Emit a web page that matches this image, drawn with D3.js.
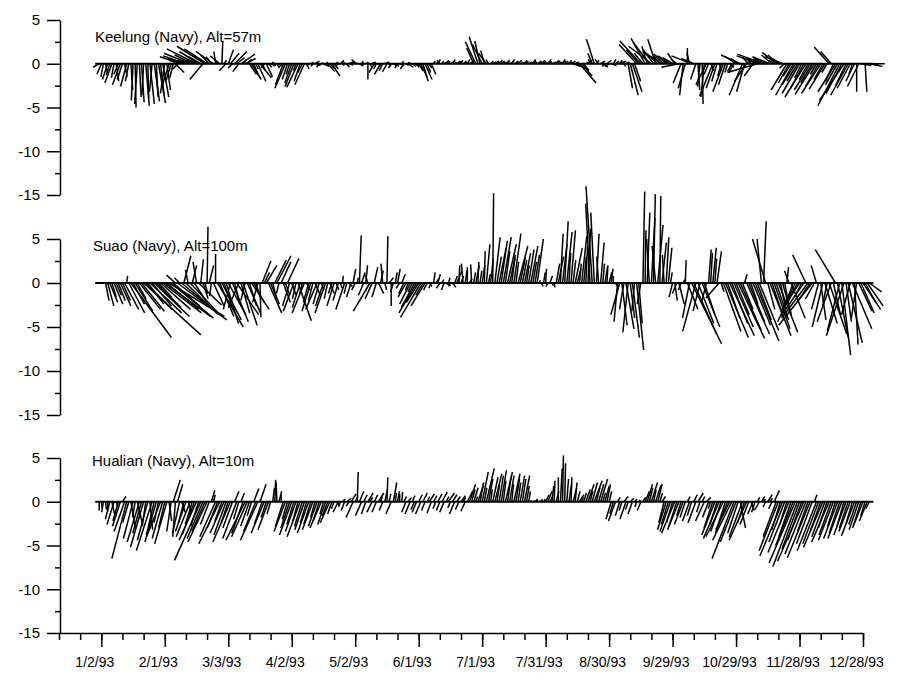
<!DOCTYPE html>
<html><head><meta charset="utf-8">
<script src="https://cdn.jsdelivr.net/npm/d3@7"></script>
<style>
body{margin:0;background:#fff}
svg{display:block}
</style>
</head><body><svg id="c" width="903" height="681"></svg>
<script>
// ---- data: daily wind components (u east, v north), 1993, one value per day from 1/1/93 ----
const stationTitles = ["Keelung (Navy), Alt=57m", "Suao (Navy), Alt=100m", "Hualian (Navy), Alt=10m"];
const tickLabels = ["1/2/93","2/1/93","3/3/93","4/2/93","5/2/93","6/1/93","7/1/93","7/31/93","8/30/93","9/29/93","10/29/93","11/28/93","12/28/93"];
const yTickValues = [5, 0, -5, -10, -15];
const yMinorValues = [2.5, -2.5, -7.5, -12.5];

const keelungU = [
-0.7,-0.5,-0.3,0.2,-0.6,-0.4,-0.8,-0.3,0.3,-0.5,
-0.9,-0.6,0.3,-0.7,-0.4,0.2,-0.2,0.1,-0.3,0.2,
0.3,-0.2,0.4,0.1,0.5,-0.3,0.6,0.2,0.8,0.4,
0.7,-0.5,0.4,-0.8,-0.6,-0.4,1.0,-0.5,-1.2,-2.5,
-1.8,-2.6,-1.2,-3.0,-2.0,-0.9,-3.4,-2.2,-1.4,-1.5,
-3.2,-2.6,-1.0,-0.6,-2.0,-0.2,-0.4,-1.1,0.1,0.3,
-0.8,0.6,1.0,-0.5,1.4,0.9,-0.7,1.6,0.4,1.2,
0.5,0.8,1.1,0.6,0.3,0.9,1.3,0.4,-0.3,0.7,
0.4,0.6,0.2,-0.3,0.3,0.5,-0.2,-0.9,-1.2,-0.6,
-0.4,-0.8,-1.0,-0.3,-1.3,-0.7,-0.5,-1.1,0.3,-0.2,
0.3,-0.2,0.5,0.4,-0.3,0.2,0.6,0.3,0.8,0.5,
0.9,0.5,0.2,-0.3,0.4,0.2,-0.2,0.3,0.5,0.2,
0.2,-0.4,-0.5,0.3,0.2,-0.2,0.3,0.0,0.2,0.4,
-0.6,-0.3,0.3,-0.7,-0.4,0.5,-0.5,0.2,-0.3,0.4,
0.4,-0.3,0.5,0.2,-0.4,0.3,0.6,-0.2,0.4,0.3,
0.3,0.5,0.7,0.6,0.8,0.4,0.3,0.5,0.2,0.3,
0.3,-0.3,0.2,0.4,0.3,0.2,0.5,0.3,0.2,0.4,
0.3,0.2,0.4,0.2,0.3,0.5,0.2,-0.8,-1.2,-1.0,
-0.6,-1.1,-0.4,-0.9,-0.3,0.3,0.4,0.5,0.3,0.4,
0.4,0.3,0.5,0.2,0.4,0.3,0.6,0.2,0.4,0.3,
0.5,0.3,0.2,0.4,0.6,0.3,0.2,0.5,0.3,0.4,
0.3,0.6,0.4,0.2,0.5,0.7,0.3,0.4,0.6,0.3,
0.4,0.6,0.3,0.5,0.8,0.4,0.9,1.9,1.2,0.6,
0.3,0.5,-0.2,-0.5,-0.9,0.3,-0.4,0.5,0.6,-0.3,
0.5,-0.5,0.6,0.3,0.4,0.7,0.3,0.5,0.2,0.4,
0.5,0.9,1.1,0.7,-2.0,-1.4,-2.4,-1.0,-1.6,-0.6,
-1.8,-2.6,-1.2,-0.9,-1.5,-0.7,-2.2,-1.0,-0.5,-1.7,
-1.4,-1.1,-0.8,-0.6,-2.0,-0.9,-0.4,-0.8,0.0,-0.3,
-2.3,-1.4,-0.6,0.2,-0.3,0.1,-0.4,-1.2,-0.5,0.4,
-1.5,-1.0,-0.6,0.3,-0.4,-1.2,-0.8,-0.3,0.5,-0.5,
-0.6,-1.2,-0.8,-2.2,-1.5,-0.9,-1.4,-0.7,-0.3,-1.0,
-0.8,-3.4,-2.6,-1.8,-3.0,-1.4,-0.5,-2.0,-1.2,-0.6,
-1.6,-1.2,-0.9,-2.0,-0.6,-1.8,-1.2,-0.9,-2.0,-1.5,
-1.2,-2.0,-0.8,-1.5,-2.4,-1.0,-1.8,-1.3,-2.2,-0.7,
-1.5,-2.2,-1.0,-1.8,-0.6,-1.7,-1.2,-0.9,-2.0,-1.4,
-2.5,-1.8,-2.8,-1.2,-2.0,-1.5,-0.4,-1.0,0.0,-1.3,
1.2,1.8,0.2,2.0,1.5];
const keelungV = [
-0.4,-1.2,-1.5,-1.0,-1.8,-1.3,-2.2,-1.6,-2.0,-1.2,
-2.4,-1.8,-1.5,-2.6,-2.0,-3.0,-4.2,-5.0,-4.6,-3.8,
-4.4,-3.6,-4.8,-4.0,-4.6,-3.2,-4.3,-3.8,-4.5,-3.5,
-3.8,-3.4,-3.0,-2.6,-2.0,-1.6,-1.0,-0.6,0.4,0.8,
0.6,0.9,0.4,1.2,1.0,0.5,1.7,1.4,0.8,-1.8,
2.0,1.7,1.0,0.8,1.4,1.4,0.6,0.9,2.6,0.4,
-0.8,1.6,1.2,-0.5,1.4,0.7,-0.9,1.1,0.5,0.6,
0.5,-1.2,-1.8,-1.4,-0.6,-2.0,-1.6,-0.8,-0.5,-1.5,
-0.4,-0.2,-0.3,0.2,-0.5,-0.3,-0.4,-2.4,-2.8,-1.8,
-1.2,-2.2,-2.6,-0.8,-2.7,-2.0,-1.0,-2.4,-0.6,-0.3,
0.2,-0.3,0.3,-0.2,-0.4,0.1,-0.3,0.2,-0.9,-0.5,
-1.4,-0.6,0.2,-0.3,0.4,-0.2,0.3,-0.4,0.2,-0.2,
0.3,0.5,0.2,-0.2,0.3,-0.3,0.2,-1.8,-0.4,0.2,
-1.0,-0.6,-0.2,-1.2,-0.8,0.2,-0.9,-0.3,-0.5,-0.2,
-0.3,-0.5,-0.2,0.3,-0.6,-0.2,-0.4,0.2,-0.3,-0.2,
-0.4,-0.8,-1.5,-2.0,-1.8,-1.0,-0.5,-1.2,0.3,0.2,
0.5,0.4,0.3,0.2,0.4,0.3,0.3,0.5,0.2,0.3,
0.3,0.4,0.3,0.2,0.5,0.3,0.4,1.8,2.5,3.1,
2.6,2.2,1.5,1.2,0.5,0.3,0.2,0.3,0.2,0.4,
0.3,0.2,0.4,0.3,0.2,0.5,0.2,0.3,0.4,0.2,
0.2,0.4,0.3,0.2,0.3,0.5,0.2,0.3,0.2,0.4,
0.3,0.2,0.5,0.3,0.2,0.3,0.4,0.2,0.3,0.5,
0.3,0.2,0.4,0.3,-0.3,0.2,-0.6,-2.2,-1.4,-0.8,
0.2,0.4,0.5,1.2,2.8,0.4,0.5,0.3,-0.4,-0.3,
0.4,-0.3,-0.2,0.5,0.3,0.2,0.4,0.3,-0.3,0.2,
-2.8,-3.6,-3.2,-2.0,2.2,1.6,2.6,1.2,2.9,2.0,
2.4,2.0,1.6,2.8,1.3,0.9,1.4,0.8,0.5,1.1,
0.9,0.7,1.2,0.5,-0.4,-2.2,-3.6,-2.8,1.8,1.3,
0.9,0.6,-1.8,-3.0,-2.6,-4.6,-3.8,-2.4,-1.2,-0.8,
-3.7,-2.8,-2.0,-0.8,-1.4,-3.2,-2.4,-1.0,-0.4,-0.9,
-1.0,0.8,0.6,1.0,-3.6,-3.2,-2.0,0.7,0.4,-1.4,
0.5,-1.0,0.9,0.7,1.1,0.6,0.3,0.8,1.0,0.4,
1.3,1.0,0.6,0.8,-0.5,-3.0,-2.2,-1.4,-3.6,-2.4,
-2.0,-3.4,-1.6,-2.8,-3.8,-1.8,-3.0,-2.2,-3.5,-1.2,
-2.6,-3.4,-1.8,-2.9,-1.0,1.9,1.4,-2.0,-3.2,-2.4,
-4.8,-3.4,-4.2,-2.5,-3.6,-2.8,-1.2,-2.0,-3.2,-2.6,
-0.2,-0.1,-3.2,0.0,-0.3];

const suaoU = [
0,0,0,0.4,0.7,0.9,0.5,1.0,0.6,0.8,
1.2,0.9,1.6,0.1,1.8,4.6,1.3,2.0,1.0,2.4,
2.6,6.5,3.0,1.8,3.6,2.2,4.0,2.8,1.5,3.4,
4.4,5.2,3.6,6.3,4.8,3.0,-1.0,5.6,-0.6,4.2,
0.8,2.4,-0.3,3.0,0.5,1.8,-0.4,2.6,0.3,0.6,
0.3,0.1,0.5,-0.2,1.2,0.0,2.9,1.6,2.2,1.0,
1.4,2.0,-0.8,1.8,0.6,2.5,-1.2,1.0,1.6,-0.5,
1.5,0.8,2.0,1.2,0.5,-0.6,0.1,1.0,0.6,1.2,
1.5,1.0,0.4,1.3,1.6,-0.3,1.1,0.8,0.5,1.3,
-0.8,0.5,-1.2,-0.4,1.5,-0.9,-0.3,-1.4,0.4,-0.6,
-1.0,-0.5,0.6,-1.3,-0.7,0.3,-0.9,-1.2,-0.4,0.5,
-0.4,-0.8,0.3,-0.6,0.2,0.1,-1.0,-0.3,0.4,-0.5,
0.3,-0.4,0.1,0.2,0.4,-0.6,0.2,-0.3,-1.9,-0.8,
0.4,-0.5,0.6,0.3,-0.2,0.2,0.1,0.5,0.0,-0.3,
0.2,0.3,-0.4,0.4,-0.6,-0.9,-0.3,-1.2,-0.5,-1.5,
-2.0,-1.4,-2.3,-0.8,-1.6,-0.4,0.3,-0.3,0.2,0.4,
0.3,-0.4,0.2,-0.3,0.5,0.2,-0.2,0.4,0.3,0.6,
0.1,0.3,-0.2,0.2,0.0,0.3,-0.1,0.2,0.4,0.1,
0.2,0.3,0.1,0.4,0.2,0.3,0.1,0.6,0.5,0.8,
0.7,0.9,0.5,1.0,0.6,0.4,0.8,0.3,1.1,0.6,
0.5,0.7,0.3,0.6,0.8,0.4,0.5,0.7,0.1,0.2,
0.2,0.1,-0.2,0.3,0.2,0.1,0.4,0.6,0.3,0.5,
0.4,0.6,0.2,0.5,0.3,0.8,0.4,0.2,0.6,0.3,
0.2,0.3,-0.5,-0.7,-0.4,0.3,-0.2,0.4,0.2,0.3,
0.1,0.3,0.2,0.0,0.2,-0.4,-1.0,0.6,-0.5,0.9,
-0.6,0.5,0.8,-0.3,0.8,0.4,-0.4,0.2,0.1,0.3,
-0.3,0.4,0.2,-0.4,0.6,0.1,0.5,-0.2,0.3,0.4,
0.2,-0.4,0.3,-0.5,0.6,-0.3,0.2,0.1,1.2,-0.8,
3.4,2.6,-1.5,1.8,-0.8,2.0,1.2,-0.5,0.3,0.2,
0.4,0.2,0.5,-1.5,0.3,2.0,2.6,1.4,2.8,1.8,
2.2,1.5,3.0,2.4,1.2,0.3,2.6,1.8,0.8,2.0,
2.7,1.6,2.2,-0.5,0.3,-1.5,0.8,2.4,1.2,1.8,
1.4,2.2,0.6,1.0,0.4,0.2,-0.5,1.6,-1.2,-2.0,
-1.2,-2.0,-0.8,-2.6,-1.5,-3.0,-1.5,-3.8,-1.0,-0.6,
-0.8,0.6,-1.2,1.4,-0.5,2.0,-1.6,0.8,-2.3,1.2,
-1.4,1.0,-2.0,0.6,1.6,-1.0,2.2,0.4,-0.6,1.5,
1.5,2.0,1.2,1.8,1.4];
const suaoV = [
0,0,0,-2.0,-2.6,-2.2,-1.6,-2.4,-1.4,-2.0,
-2.6,-2.0,-3.0,0.8,-3.4,-6.2,-2.4,-3.2,-1.8,-3.0,
-3.2,-5.9,-3.0,-2.4,-3.4,-2.6,-3.8,-2.8,-1.6,-3.0,
-3.4,-3.8,-3.0,-3.8,-4.0,-2.6,0.9,-4.2,0.6,-3.6,
3.1,-2.4,1.5,-3.2,2.0,-2.8,2.4,-2.5,2.7,-1.8,
-1.2,6.4,2.0,-1.5,-2.6,3.3,-5.0,-3.8,-4.2,-3.0,
-4.6,-3.6,-3.0,-4.4,-2.4,-3.6,-2.8,-3.4,-4.8,-2.0,
-3.4,-2.6,-3.0,-2.2,-1.6,-2.2,-3.9,2.5,1.2,2.0,
-3.4,-2.4,-1.6,2.6,3.1,-1.2,2.4,-2.2,-1.4,2.8,
-2.6,-1.4,-3.2,-1.8,-4.3,-2.8,-1.2,-3.4,-0.8,-2.2,
-3.2,-2.0,-1.4,-3.0,-2.4,-0.8,-2.6,-3.4,-1.8,-1.2,
-1.2,-2.6,-0.8,-2.0,-0.6,0.8,-3.0,-1.2,-0.4,-1.6,
1.6,-0.8,0.6,5.4,1.2,-1.4,2.0,0.9,-3.2,-1.8,
1.8,-1.6,-1.2,1.4,2.2,-0.8,5.3,0.6,-2.6,-1.0,
1.2,1.6,-0.6,1.0,-1.2,-1.6,-0.8,-2.4,-1.0,-2.8,
-3.4,-2.2,-3.9,-1.4,-2.6,-0.8,-0.4,-0.6,1.2,0.5,
1.0,-0.6,0.4,-0.8,-0.3,0.6,-0.4,-0.5,0.8,1.4,
2.0,0.8,2.2,1.4,1.8,0.5,2.1,1.2,2.0,2.4,
1.4,2.0,3.6,4.4,1.0,2.8,10.2,5.2,3.0,4.0,
4.8,5.2,3.6,4.4,2.8,3.2,5.6,2.4,4.2,3.0,
2.6,3.4,2.0,3.8,4.2,2.4,3.2,5.0,0.3,-0.4,
1.2,1.6,-0.4,0.8,-0.3,-0.5,2.2,3.0,5.6,4.4,
7.0,5.8,3.4,6.0,2.6,4.0,1.6,2.2,5.4,3.0,
4.2,6.2,9.0,11.0,8.0,5.6,3.0,4.6,2.2,1.8,
2.0,1.2,1.6,0.8,-0.3,-4.4,-3.6,-4.8,-3.0,-5.2,
-5.6,-4.0,-6.2,-3.2,-7.6,-4.6,-2.4,10.4,6.0,8.0,
5.0,7.4,10.1,4.2,6.6,9.9,4.6,3.2,5.2,4.0,
1.2,-1.6,-2.0,-1.2,-2.4,-0.8,0.4,2.6,-3.0,-4.0,
-6.9,-5.8,-5.5,-4.6,-3.2,-5.0,-3.6,-2.0,3.8,3.4,
4.0,2.8,3.6,-1.7,-1.0,-5.5,-6.2,-4.0,-6.0,-4.6,
-5.0,-3.6,-6.3,-5.4,-3.0,1.0,-5.8,-4.4,-2.4,-4.8,
-6.6,-4.2,-5.4,5.0,7.0,5.0,-3.0,-6.0,-3.6,-5.2,
-4.2,-5.6,-3.0,-3.6,-2.2,1.8,1.4,-4.0,-3.2,-4.4,
-2.4,-3.0,-1.6,-3.8,3.2,-4.0,-2.2,-4.8,-1.8,2.0,
-3.0,-4.2,-5.0,-4.6,-2.6,-5.8,-4.4,-3.6,3.8,-6.2,
-5.4,-8.2,-6.0,-4.4,-6.8,-3.6,-5.2,-7.0,-4.0,-3.2,
-3.4,-3.0,-2.2,-2.6,-1.0];

const hualianU = [
0.0,0.1,-0.2,0.1,0.0,-0.5,0.3,-0.8,0.2,-0.6,
-0.9,0.4,-1.2,-1.7,-0.7,0.5,-1.1,-0.3,0.6,-1.4,
-1.0,-1.5,-0.4,-1.2,0.3,-1.8,-0.9,-1.3,-0.5,-1.6,
-1.2,-0.7,-1.4,0.3,-0.5,0.8,-0.3,0.6,-0.8,0.4,
-0.6,-1.2,0.4,-1.6,-0.8,-1.4,-2.0,-0.9,-3.0,-1.8,
-1.5,-2.2,-1.0,0.4,0.2,-1.8,-1.2,-2.4,-0.8,-1.6,
-1.4,-0.8,-2.0,-1.1,0.5,-1.6,-0.6,0.4,-1.3,-2.2,
-1.8,-1.0,-0.5,0.6,-1.4,-2.0,0.7,-0.9,-1.5,-0.6,
-1.2,-0.4,0.2,0.1,-0.1,0.3,0.0,-0.9,-1.3,-0.6,
-1.0,-1.4,-0.8,-1.2,-0.6,-1.5,-0.9,-1.1,-0.7,-1.3,
-0.8,-1.2,-0.5,-1.0,-0.7,-1.3,-0.4,-0.9,-0.6,-1.1,
-0.5,-0.3,0.4,-0.6,-0.2,0.3,-0.4,0.5,-0.3,0.6,
-0.8,0.3,0.1,0.5,-0.7,0.4,-0.5,0.6,0.3,-0.6,
0.4,-0.5,0.6,0.2,-0.4,0.3,0.1,0.2,-0.6,0.4,
0.1,0.2,0.0,0.1,0.3,-0.5,0.4,-0.6,0.3,-0.4,
-0.5,0.4,-0.6,0.5,-0.4,0.3,0.6,-0.5,0.4,-0.3,
0.5,-0.4,0.6,-0.5,0.3,0.7,-0.3,0.5,-0.6,0.4,
-0.4,0.5,0.3,-0.5,0.6,0.7,0.4,0.5,0.2,0.6,
0.4,0.7,0.3,0.9,0.5,0.2,0.6,0.8,0.3,0.5,
0.6,0.3,0.8,0.4,0.5,0.2,0.7,0.4,0.3,0.5,
0.4,0.6,0.3,0.2,0.1,0.2,0.3,0.1,0.2,0.1,
0.2,0.4,0.5,0.3,0.2,0.1,0.3,0.0,0.2,0.1,
0.1,0.2,0.3,0.1,0.4,0.2,0.3,0.5,0.2,0.3,
0.5,0.7,0.3,0.6,0.9,0.4,0.6,0.8,0.3,0.5,
0.4,0.3,-0.6,-0.4,-0.8,0.3,-0.5,-0.3,0.5,-0.7,
-0.3,0.4,-0.5,0.3,-0.2,0.2,-0.4,0.3,0.5,0.6,
0.4,0.7,0.3,0.6,0.5,0.3,0.4,-0.6,-1.0,-0.8,
-1.2,-0.7,-1.5,-0.9,-1.3,-0.5,-1.0,-0.6,0.3,-0.8,
-0.5,0.4,-0.9,0.6,-0.4,0.3,-1.0,0.5,-0.7,-0.3,
-1.0,-1.5,-0.8,-1.8,-1.2,-2.0,-0.9,-1.4,-1.6,-2.2,
-2.5,-1.8,-1.2,0.6,-1.5,-0.8,-2.0,-1.0,0.4,-0.6,
-0.4,0.3,-0.5,0.4,0.2,-0.3,0.5,0.3,-0.4,0.6,
-1.5,-2.2,-1.0,-2.6,-1.8,-0.8,-2.4,-1.4,-2.0,-3.0,
-2.8,-2.0,-1.6,-3.0,-2.4,-1.2,-2.6,-1.8,0.3,-2.2,
-1.8,-1.2,-2.2,-1.5,-1.0,-2.0,-1.4,-1.7,-0.9,-1.6,
-1.2,-1.6,-0.8,-1.4,-1.0,-1.3,-0.7,-1.5,-0.9,-1.1,
-0.8,-1.2,-0.5,-0.9,-0.4];
const hualianV = [
-1.0,-0.8,-1.2,-0.9,-1.1,-2.0,-1.4,-2.6,-0.6,-2.2,
-2.8,0.6,-3.4,-6.5,-2.4,-3.0,-4.2,-1.8,-2.6,-4.6,
-3.6,-5.2,-2.8,-4.4,-3.2,-5.6,-3.8,-4.6,-2.4,-4.0,
-4.2,-3.0,-4.8,-2.2,-3.4,2.5,-4.0,2.0,-3.6,-1.2,
-2.4,-3.4,-1.2,-4.0,-2.6,-3.8,-4.4,-2.8,-6.7,-4.2,
-3.4,-4.6,-2.6,1.3,0.8,-4.0,-3.0,-4.8,-2.2,-3.6,
-3.8,-2.4,-4.6,-3.0,1.2,-4.2,-2.0,1.0,-3.6,-4.4,
-4.0,-2.8,-1.6,1.5,-3.4,-4.4,2.0,-2.6,-3.6,-1.8,
-3.2,-1.4,1.6,2.5,2.2,1.2,0.8,-2.8,-3.4,-2.0,
-3.0,-3.8,-2.6,-3.4,-2.2,-4.0,-2.8,-3.2,-2.4,-3.6,
-2.6,-3.2,-1.8,-2.8,-2.2,-3.0,-1.4,-2.6,-1.6,-2.4,
-1.4,-0.8,-0.4,-1.2,-0.6,0.3,-1.0,0.4,-0.5,0.9,
-1.8,0.6,3.4,1.2,-1.6,0.8,-1.4,1.0,0.5,-1.2,
0.8,-1.2,1.0,0.6,-1.0,1.4,2.8,0.9,-1.4,2.2,
1.0,1.2,0.9,1.1,0.6,-1.2,0.5,-1.4,0.7,-0.9,
-1.2,0.8,-1.4,1.0,-1.0,0.6,0.9,-1.3,0.7,-0.8,
0.9,-1.0,1.1,-1.2,0.6,1.0,-0.7,0.8,-1.4,0.6,
-0.9,0.7,0.5,-1.1,1.2,2.0,1.4,1.6,0.6,1.8,
2.2,3.4,1.6,3.8,2.6,1.4,2.8,3.2,2.0,3.0,
3.6,2.4,3.4,2.8,3.0,2.0,3.2,2.6,2.2,3.0,
2.6,3.0,1.8,1.2,0.2,0.1,0.3,0.2,0.1,0.3,
0.3,0.8,1.2,0.6,1.8,2.4,1.2,2.8,3.8,5.3,
4.4,2.6,2.0,2.8,1.6,2.2,1.2,0.8,0.5,1.0,
1.4,2.0,1.2,2.2,2.4,1.6,2.0,2.6,1.0,1.8,
2.0,1.2,-2.0,-1.4,-2.2,0.5,-1.6,-1.0,0.6,-2.0,
-0.9,0.4,-1.4,0.3,-0.6,0.2,-1.0,0.5,1.2,2.0,
1.6,2.2,1.4,1.9,2.0,1.0,0.6,-2.4,-3.2,-2.6,
-3.4,-2.4,-3.6,-2.8,-3.2,-1.6,-2.6,-1.8,0.6,-2.2,
-1.6,0.8,-2.4,1.0,-1.2,0.6,-2.2,0.5,-1.8,-0.8,
-3.0,-3.8,-2.6,-4.2,-3.4,-4.0,-2.8,-3.6,-3.2,-4.4,
-6.5,-4.6,-3.6,-3.0,-4.0,-2.4,-4.4,-2.6,-1.0,-1.4,
-1.2,0.5,-0.9,0.6,0.3,-0.6,0.8,0.4,-0.8,1.3,
-4.0,-5.6,-3.2,-6.2,-4.6,-2.6,-5.8,-4.0,-5.0,-7.0,
-7.4,-5.4,-4.4,-6.8,-6.0,-3.4,-6.4,-4.8,0.8,-5.6,
-4.8,-3.4,-5.2,-4.0,-3.0,-4.6,-3.8,-4.4,-2.8,-4.2,
-3.6,-4.2,-2.8,-3.8,-3.0,-3.4,-2.4,-3.9,-2.6,-3.2,
-2.6,-3.0,-1.6,-2.2,-0.8];

// ---- layout ----
const FONT = '"Liberation Sans", Arial, Helvetica, sans-serif';
const svg = d3.select("#c");
const firstDay = new Date(1993, 0, 1);
const axisStart = new Date(1992, 11, 13);
const axisEnd = new Date(1993, 11, 28);
const x = d3.scaleTime().domain([axisStart, axisEnd]).range([59, 863]);
const yAxisX = 60;

const panels = [
  {title: stationTitles[0], u: keelungU, v: keelungV, top: 20, bottom: 195, tx: 95, ty: 42},
  {title: stationTitles[1], u: suaoU, v: suaoV, top: 239, bottom: 415, tx: 93, ty: 251},
  {title: stationTitles[2], u: hualianU, v: hualianV, top: 458, bottom: 633, tx: 92, ty: 466}
];

panels.forEach((p, pi) => {
  const y = d3.scaleLinear().domain([-15, 5]).range([p.bottom, p.top]);
  const k = y(0) - y(1); // pixels per unit, same on both directions
  const g = svg.append("g");
  const n = Math.min(p.u.length, p.v.length);
  const days = d3.range(n).map(i => d3.timeDay.offset(firstDay, i));

  // sticks
  g.append("g").selectAll("line").data(days).join("line")
    .attr("x1", d => x(d))
    .attr("y1", y(0))
    .attr("x2", (d, i) => x(d) + p.u[i] * k)
    .attr("y2", (d, i) => y(p.v[i]))
    .attr("stroke", "#000").attr("stroke-width", 1.5).attr("stroke-linecap", "butt");

  // zero baseline
  g.append("line")
    .attr("x1", x(days[0]) - 4).attr("x2", x(days[n - 1]) + 4)
    .attr("y1", y(0)).attr("y2", y(0))
    .attr("stroke", "#000").attr("stroke-width", 2);

  // y axis
  const ya = g.append("g").attr("transform", `translate(${yAxisX},0)`)
    .call(d3.axisLeft(y).tickValues(yTickValues).tickSize(13).tickSizeOuter(0).tickPadding(7)
      .tickFormat(d => String(d)));
  ya.attr("font-family", FONT).attr("font-size", 15);
  ya.selectAll("path,line").attr("stroke", "#000").attr("stroke-width", 1.5);
  const ym = g.append("g").attr("transform", `translate(${yAxisX},0)`)
    .call(d3.axisLeft(y).tickValues(yMinorValues).tickSize(5).tickFormat(""));
  ym.select(".domain").remove();
  ym.selectAll("line").attr("stroke", "#000").attr("stroke-width", 1.5);

  // title
  g.append("text").attr("x", p.tx).attr("y", p.ty)
    .attr("font-family", FONT).attr("font-size", 15).attr("fill", "#000")
    .text(p.title);

  if (pi === 2) {
    const parse = d3.timeParse("%m/%d/%y");
    const majorDates = tickLabels.map(parse);
    const minorDates = d3.range(0, 39).map(i => d3.timeDay.offset(axisStart, i * 10));
    const xa = g.append("g").attr("transform", `translate(0,${p.bottom})`)
      .call(d3.axisBottom(x).tickValues(minorDates).tickSize(7).tickSizeOuter(0).tickFormat(""));
    xa.selectAll("path,line").attr("stroke", "#000").attr("stroke-width", 1.5);
    const xm = g.append("g").attr("transform", `translate(0,${p.bottom})`)
      .call(d3.axisBottom(x).tickValues(majorDates).tickSize(14).tickPadding(10)
        .tickFormat((d, i) => tickLabels[i]));
    xm.select(".domain").remove();
    xm.attr("font-family", FONT).attr("font-size", 14);
    xm.selectAll("line").attr("stroke", "#000").attr("stroke-width", 1.5);
    xm.selectAll("text").attr("dx", -7);
  }
});
</script>
</body></html>
